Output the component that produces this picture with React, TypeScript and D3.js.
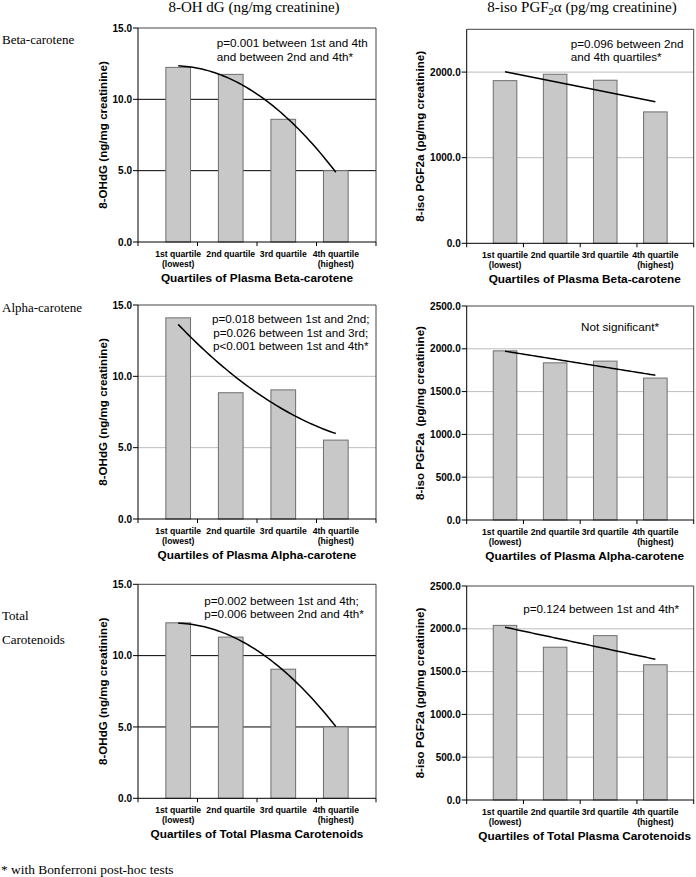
import React, { useEffect, useRef } from 'react';
import * as d3 from 'd3';

// quartile categories (two-line tick labels)
const quartileLines = [['1st quartile', '(lowest)'], ['2nd quartile'], ['3rd quartile'], ['4th quartile', '(highest)']];

// 8-OHdG (ng/mg creatinine) per quartile
const betaOhdg = [12.24, 11.75, 8.6, 5.0];
const alphaOhdg = [14.1, 8.85, 9.05, 5.53];
const totalOhdg = [12.3, 11.3, 9.05, 5.0];

// 8-iso PGF2a (pg/mg creatinine) per quartile
const betaPgf = [1900, 1975, 1905, 1535];
const alphaPgf = [1976, 1836, 1856, 1658];
const totalPgf = [2040, 1785, 1920, 1580];

// tick labels
const ohdgTicks = [0, 5, 10, 15];
const pgfTicksShort = [0, 1000, 2000];
const pgfTicks = [0, 500, 1000, 1500, 2000, 2500];

const rowLabels = [['Beta-carotene'], ['Alpha-carotene'], ['Total', 'Carotenoids']];
const xTitles = ['Quartiles of Plasma Beta-carotene', 'Quartiles of Plasma Alpha-carotene', 'Quartiles of Total Plasma Carotenoids'];

const betaOhdgNote = ['p=0.001 between 1st and 4th', 'and between 2nd and 4th*'];
const betaPgfNote = ['p=0.096 between 2nd', 'and 4th quartiles*'];
const alphaOhdgNote = ['p=0.018 between 1st and 2nd;', 'p=0.026 between 1st and 3rd;', 'p<0.001 between 1st and 4th*'];
const alphaPgfNote = ['Not significant*'];
const totalOhdgNote = ['p=0.002 between 1st and 4th;', 'p=0.006 between 2nd and 4th*'];
const totalPgfNote = ['p=0.124 between 1st and 4th*'];

const SANS = '"Liberation Sans", Arial, sans-serif';
const SERIF = '"Liberation Serif", "Times New Roman", serif';

// least squares polynomial trendline (like Excel), x = 1..n
function fitPoly(ys: number[], deg: number) {
  const xs = ys.map((_, i) => i + 1);
  const n = deg + 1;
  const A = d3.range(n).map(r => d3.range(n).map(c => d3.sum(xs, x => x ** (r + c))));
  const b = d3.range(n).map(r => d3.sum(xs, (x, i) => ys[i] * x ** r));
  for (let i = 0; i < n; i++) {
    for (let k = i + 1; k < n; k++) {
      const f = A[k][i] / A[i][i];
      for (let j = i; j < n; j++) A[k][j] -= f * A[i][j];
      b[k] -= f * b[i];
    }
  }
  const coef = new Array(n).fill(0);
  for (let i = n - 1; i >= 0; i--) {
    let s = b[i];
    for (let j = i + 1; j < n; j++) s -= A[i][j] * coef[j];
    coef[i] = s / A[i][i];
  }
  return (x: number) => coef.reduce((acc, c, p) => acc + c * x ** p, 0);
}

const App = () => {
  const svgRef = useRef<SVGSVGElement>(null);

  useEffect(() => {
    if (!svgRef.current) return;
    const svg = d3.select(svgRef.current);
    svg.selectAll('*').remove();

    const rowTopsLeft = [28, 305, 584.3];
    const rowTopsRight = [29.3, 306, 586];
    const plotH = 214;

    const leftCol = { x: 138, w: 238, yTitle: '8-OHdG (ng/mg creatinine)', max: 15, deg: 2, titleShift: 0 };
    const rightCol = { x: 466.7, w: 227, yTitle: '8-iso PGF2a (pg/mg creatinine)', max: 2500, deg: 1, titleShift: 4.5 };

    const panels = [
      { col: leftCol, top: rowTopsLeft[0], values: betaOhdg, ticks: ohdgTicks, grid: '#000', xTitle: xTitles[0], note: betaOhdgNote, anchor: 'start', nx: 78.7, ny: 15.3, gap: 14 },
      { col: rightCol, top: rowTopsRight[0], values: betaPgf, ticks: pgfTicksShort, grid: '#bdbdbd', xTitle: xTitles[0], note: betaPgfNote, anchor: 'start', nx: 104, ny: 14.7, gap: 13.3 },
      { col: leftCol, top: rowTopsLeft[1], values: alphaOhdg, ticks: ohdgTicks, grid: '#bdbdbd', xTitle: xTitles[1], note: alphaOhdgNote, anchor: 'middle', nx: 152.7, ny: 14.3, gap: 13.3 },
      { col: rightCol, top: rowTopsRight[1], values: alphaPgf, ticks: pgfTicks, grid: '#bdbdbd', xTitle: xTitles[1], note: alphaPgfNote, anchor: 'middle', nx: 153.3, ny: 21.3, gap: 13.3, yTitle: '8-iso PGF2a  (pg/mg creatinine)' },
      { col: leftCol, top: rowTopsLeft[2], values: totalOhdg, ticks: ohdgTicks, grid: '#000', xTitle: xTitles[2], note: totalOhdgNote, anchor: 'start', nx: 66.3, ny: 17, gap: 12.7 },
      { col: rightCol, top: rowTopsRight[2], values: totalPgf, ticks: pgfTicks, grid: '#bdbdbd', xTitle: xTitles[2], note: totalPgfNote, anchor: 'start', nx: 56.6, ny: 23.3, gap: 13.3 }
    ];

    panels.forEach(p => {
      const { col } = p;
      const w = col.w;
      const g = svg.append('g').attr('transform', `translate(${col.x},${p.top})`);

      const x = d3.scaleBand<number>().domain(d3.range(4)).range([0, w]).padding(0.53);
      const y = d3.scaleLinear().domain([0, col.max]).range([plotH, 0]);

      // grid lines
      g.selectAll('.grid')
        .data(p.ticks.filter(t => t > 0 && t < col.max))
        .enter()
        .append('line')
        .attr('x1', 0)
        .attr('x2', w)
        .attr('y1', d => y(d))
        .attr('y2', d => y(d))
        .style('stroke', p.grid)
        .style('stroke-width', '1px');

      // plot border (top/right)
      g.append('path')
        .attr('d', `M0,0H${w}V${plotH}`)
        .style('fill', 'none')
        .style('stroke', '#444')
        .style('stroke-width', '1px');

      // bars
      g.selectAll('.bar')
        .data(p.values)
        .enter()
        .append('rect')
        .attr('x', (d, i) => x(i)!)
        .attr('y', d => y(d))
        .attr('width', x.bandwidth())
        .attr('height', d => plotH - y(d))
        .style('fill', '#c8c8c8')
        .style('stroke', '#6e6e6e')
        .style('stroke-width', '1px');

      // trendline
      const fit = fitPoly(p.values, col.deg);
      const xc = d3.scaleLinear().domain([1, 4]).range([x(0)! + x.bandwidth() / 2, x(3)! + x.bandwidth() / 2]);
      const line = d3.line<number>().x(d => xc(d)).y(d => y(fit(d)));
      g.append('path')
        .datum(d3.range(1, 4.0001, 0.05))
        .attr('d', line)
        .style('fill', 'none')
        .style('stroke', '#000')
        .style('stroke-width', '1.5px');

      // y axis
      g.append('line').attr('x1', 0).attr('x2', 0).attr('y1', 0).attr('y2', plotH)
        .style('stroke', '#000').style('stroke-width', '1px');
      g.selectAll('.ytick')
        .data(p.ticks)
        .enter()
        .append('line')
        .attr('x1', -5).attr('x2', 0)
        .attr('y1', d => y(d)).attr('y2', d => y(d))
        .style('stroke', '#000');
      g.selectAll('.ylabel')
        .data(p.ticks)
        .enter()
        .append('text')
        .attr('x', -6)
        .attr('y', d => y(d) + 3.6)
        .attr('text-anchor', 'end')
        .style('font-family', SANS)
        .style('font-size', '10px')
        .style('font-weight', '700')
        .text(d => d3.format('.1f')(d));

      // x axis
      g.append('line').attr('x1', 0).attr('x2', w).attr('y1', plotH).attr('y2', plotH)
        .style('stroke', '#000').style('stroke-width', '1px');
      g.selectAll('.xtick')
        .data(d3.range(5))
        .enter()
        .append('line')
        .attr('x1', d => (d * w) / 4).attr('x2', d => (d * w) / 4)
        .attr('y1', plotH).attr('y2', plotH + 4)
        .style('stroke', '#000');
      const xl = g.selectAll('.xlabel')
        .data(quartileLines)
        .enter()
        .append('text')
        .attr('text-anchor', 'middle')
        .style('font-family', SANS)
        .style('font-size', '8.6px')
        .style('font-weight', '700');
      xl.selectAll('tspan')
        .data((d, i) => d.map(s => ({ s, i })))
        .enter()
        .append('tspan')
        .attr('x', d => x(d.i)! + x.bandwidth() / 2)
        .attr('y', (d, j) => plotH + 15 + j * 10)
        .text(d => d.s);

      // axis titles
      g.append('text')
        .attr('x', w / 2 + col.titleShift)
        .attr('y', plotH + 40)
        .attr('text-anchor', 'middle')
        .style('font-family', SANS)
        .style('font-size', '11.8px')
        .style('font-weight', '700')
        .text(p.xTitle);
      g.append('text')
        .attr('transform', `translate(${col === leftCol ? -31 : -42.5},${plotH / 2}) rotate(-90)`)
        .attr('text-anchor', 'middle')
        .style('font-family', SANS)
        .style('font-size', '11.6px')
        .style('font-weight', '700')
        .style('white-space', 'pre')
        .text(p.yTitle || col.yTitle);

      // significance note
      g.selectAll('.note')
        .data(p.note)
        .enter()
        .append('text')
        .attr('x', p.nx)
        .attr('y', (d, i) => p.ny + 4 + i * p.gap)
        .attr('text-anchor', p.anchor)
        .style('font-family', SANS)
        .style('font-size', '11.7px')
        .text(d => d);
    });

    // column headings
    svg.append('text')
      .attr('x', 254).attr('y', 12)
      .attr('text-anchor', 'middle')
      .style('font-family', SERIF).style('font-size', '15px')
      .text('8-OH dG (ng/mg creatinine)');
    const h2 = svg.append('text')
      .attr('x', 582).attr('y', 12)
      .attr('text-anchor', 'middle')
      .style('font-family', SERIF).style('font-size', '15px');
    h2.append('tspan').text('8-iso PGF');
    h2.append('tspan').attr('dy', 3).style('font-size', '10.5px').text('2');
    h2.append('tspan').attr('dy', -3).text('α (pg/mg creatinine)');

    // row labels
    const rowY = [43.5, 311.5];
    svg.append('text').attr('x', 2).attr('y', rowY[0]).style('font-family', SERIF).style('font-size', '13px').text(rowLabels[0][0]);
    svg.append('text').attr('x', 2).attr('y', rowY[1]).style('font-family', SERIF).style('font-size', '13px').text(rowLabels[1][0]);
    svg.append('text').attr('x', 2).attr('y', 619.5).style('font-family', SERIF).style('font-size', '13px').text(rowLabels[2][0]);
    svg.append('text').attr('x', 2).attr('y', 643.5).style('font-family', SERIF).style('font-size', '13px').text(rowLabels[2][1]);

    // footnote
    svg.append('text')
      .attr('x', 1).attr('y', 874)
      .style('font-family', SERIF).style('font-size', '13.4px')
      .text('* with Bonferroni post-hoc tests');
  }, []);

  return (
    <svg
      ref={svgRef}
      width={696}
      height={877}
      style={{ position: 'absolute', left: 0, top: 0, background: '#fff' }}
    />
  );
};

export default App;
